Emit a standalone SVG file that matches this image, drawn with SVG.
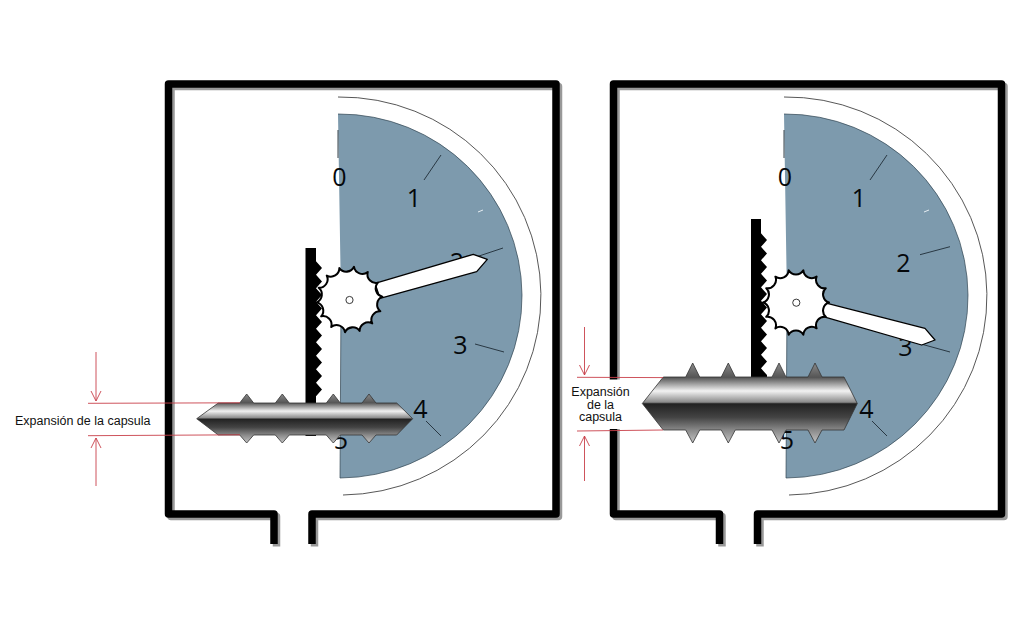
<svg xmlns="http://www.w3.org/2000/svg" width="1024" height="629" viewBox="0 0 1024 629">
<style>
.shadow{fill:none;stroke:#999;stroke-width:7.5;stroke-linejoin:round}
.frame{fill:none;stroke:#000;stroke-width:7.5;stroke-linejoin:round}
.dial{fill:#7d9aad;stroke:#2f4350;stroke-width:.7}
.outer{fill:none;stroke:#444;stroke-width:.9}
.tick{stroke:#1f2d37;stroke-width:.9;fill:none}
.tickw{stroke:#e6edf2;stroke-width:1;fill:none}
.digit{font-family:"Open Sans","Noto Sans",sans-serif;font-size:25px;fill:#05080b;text-anchor:middle}
.rack{fill:#000}
.needle{fill:#fff;stroke:#000;stroke-width:1.3;stroke-linejoin:round}
.gear{fill:#fff;stroke:#000;stroke-width:1.9;stroke-linejoin:round}
.hub{fill:#fff;stroke:#222;stroke-width:.9}
.capsule{fill:url(#metal);stroke:#333;stroke-width:.8}
.dim{fill:none;stroke:#c8404a;stroke-width:.9}
.label{font-family:"Liberation Sans",Arial,sans-serif;font-size:12.5px;fill:#111}
</style>
<defs>
<linearGradient id="metal" x1="0" y1="0" x2="0" y2="1">
<stop offset="0" stop-color="#8a8a8a"/>
<stop offset=".18" stop-color="#555"/>
<stop offset=".35" stop-color="#f2f2f2"/>
<stop offset=".49" stop-color="#8a8a8a"/>
<stop offset=".51" stop-color="#222"/>
<stop offset=".68" stop-color="#444"/>
<stop offset=".84" stop-color="#8a8a8a"/>
<stop offset="1" stop-color="#c4c4c4"/>
</linearGradient>
<path id="gearShape" d="M31 0A8 8 0 0 0 27.93 13.45A8 8 0 0 0 19.33 24.24A8 8 0 0 0 6.9 30.22A8 8 0 0 0 -6.9 30.22A8 8 0 0 0 -19.33 24.24A8 8 0 0 0 -27.93 13.45A8 8 0 0 0 -31 0A8 8 0 0 0 -27.93 -13.45A8 8 0 0 0 -19.33 -24.24A8 8 0 0 0 -6.9 -30.22A8 8 0 0 0 6.9 -30.22A8 8 0 0 0 19.33 -24.24A8 8 0 0 0 27.93 -13.45A8 8 0 0 0 31 0Z"/>
</defs>

<g id="frame-left">
<path class="shadow" d="M276.5 546.5V516.5H171V86.500H558.500V516.500H314.500V546.500"/>
<path class="frame" d="M274 544V514H168.500V84H556V514H312V544"/>
</g>
<g id="frame-right">
<path class="shadow" d="M722 546.500V516.500H616V86.500H1004V516.500H760V546.500"/>
<path class="frame" d="M719.500 544V514H613.500V84H1001.500V514H757.500V544"/>
</g>

<g id="dial-left">
<path class="outer" d="M338 97A200.500 199 0 0 1 343 495"/>
<path class="dial" d="M338 114A183 182 0 0 1 340 478L341 300"/>
<path class="tick" d="M338 130V158M441 155L424 180M503 248L470 259M504 352L475 344M441 436L426 421"/>
<path class="tickw" d="M478 212L483 210"/>
<text class="digit" x="339.500" y="186">0</text>
<text class="digit" x="414" y="207">1</text>
<text class="digit" x="457" y="271">2</text>
<text class="digit" x="460.500" y="354">3</text>
<text class="digit" x="420.500" y="418">4</text>
<text class="digit" x="341" y="449">5</text>
</g>
<g id="dial-right">
<path class="outer" d="M784 97A200.500 199 0 0 1 789 495"/>
<path class="dial" d="M784 114A183 182 0 0 1 786 478L787 300"/>
<path class="tick" d="M784 130V158M887 155L870 180M950 246.700L920 254.700M950 352L921 344M887 436L872 421"/>
<path class="tickw" d="M924 212L929 210"/>
<text class="digit" x="785" y="186">0</text>
<text class="digit" x="859" y="207">1</text>
<text class="digit" x="903.500" y="272">2</text>
<text class="digit" x="905.500" y="356">3</text>
<text class="digit" x="866.500" y="418">4</text>
<text class="digit" x="787" y="449">5</text>
</g>

<g id="rack-left">
<path class="rack" d="M305.500 248H316V261.250L322 268L316 274.750L322 281.500L316 288.250L322 295L316 301.750L322 308.500L316 315.250L322 322L316 328.750L322 335.500L316 342.250L322 349L316 355.750L322 362.500L316 369.250L322 376L316 382.750L322 389.500L316 396.250V436H305.500Z"/>
</g>
<g id="rack-right">
<path class="rack" d="M751 219H761V233.250L767 240L761 246.750L767 253.500L761 260.250L767 267L761 273.750L767 280.500L761 287.250L767 294L761 300.750L767 307.500L761 314.250L767 321L761 327.750L767 334.500L761 341.250L767 348L761 354.750L767 361.500L761 368.250L767 375V380H751Z"/>
</g>

<g id="pointer-left">
<path class="needle" d="M375 283.300L473.300 254.300L487.300 259.300L476.700 271.700L380 298.300Z"/>
<use href="#gearShape" class="gear" transform="translate(349.500 299.500) rotate(-5) scale(1.065)"/>
<circle class="hub" cx="349.500" cy="300" r="3.600"/>
</g>
<g id="pointer-right">
<path class="needle" d="M823.300 302.300L925 328.300L935 340L921.700 345L823.300 316.700Z"/>
<use href="#gearShape" class="gear" transform="translate(796 302.500) scale(1.065)"/>
<circle class="hub" cx="796.300" cy="302.700" r="3.600"/>
</g>

<g id="capsule-left">
<path class="capsule" d="M196.700 418.700L218.300 403H239.700L246.700 394L253.700 403H275.300L282.300 394L289.300 403H326.300L333.300 394L340.300 403H362L369 394L376 403H396.700L412.700 418.700L396.700 435H376L369 443L362 435H340.300L333.300 443L326.300 435H289.300L282.300 443L275.300 435H253.700L246.700 443L239.700 435H218.300Z"/>
</g>
<g id="capsule-right">
<rect x="567" y="379.500" width="62" height="49.500" fill="#fff"/>
<path class="capsule" d="M642.300 403.500L663.300 377H685.700L692.700 363L699.700 377H721.300L728.300 363L735.300 377H772L779 363L786 377H808L815 363L822 377H844L857.300 403.500L844 430H822L815 443L808 430H786L779 443L772 430H735.300L728.300 443L721.300 430H699.700L692.700 443L685.700 430H663.300Z"/>
</g>

<g id="connectors">
<path class="dim" d="M88 403.300L240 402.800M88 435.700L240 434.800"/>
<path class="dim" d="M96 352V401M91 391L96 401L101 391M96 486V438M91 448L96 438L101 448"/>
<path class="dim" d="M577 377.300L663 377.600M577 431L663 430"/>
<path class="dim" d="M584.500 327V375M579.500 365L584.500 375L589.500 365M584.500 481V436M579.500 446L584.500 436L589.500 446"/>
</g>

<g id="labels">
<text class="label" x="15" y="425">Expansión de la capsula</text>
<text class="label" text-anchor="middle" x="600.500" y="396">Expansión</text>
<text class="label" text-anchor="middle" x="600.500" y="409">de la</text>
<text class="label" text-anchor="middle" x="600.500" y="421">capsula</text>
</g>
</svg>
